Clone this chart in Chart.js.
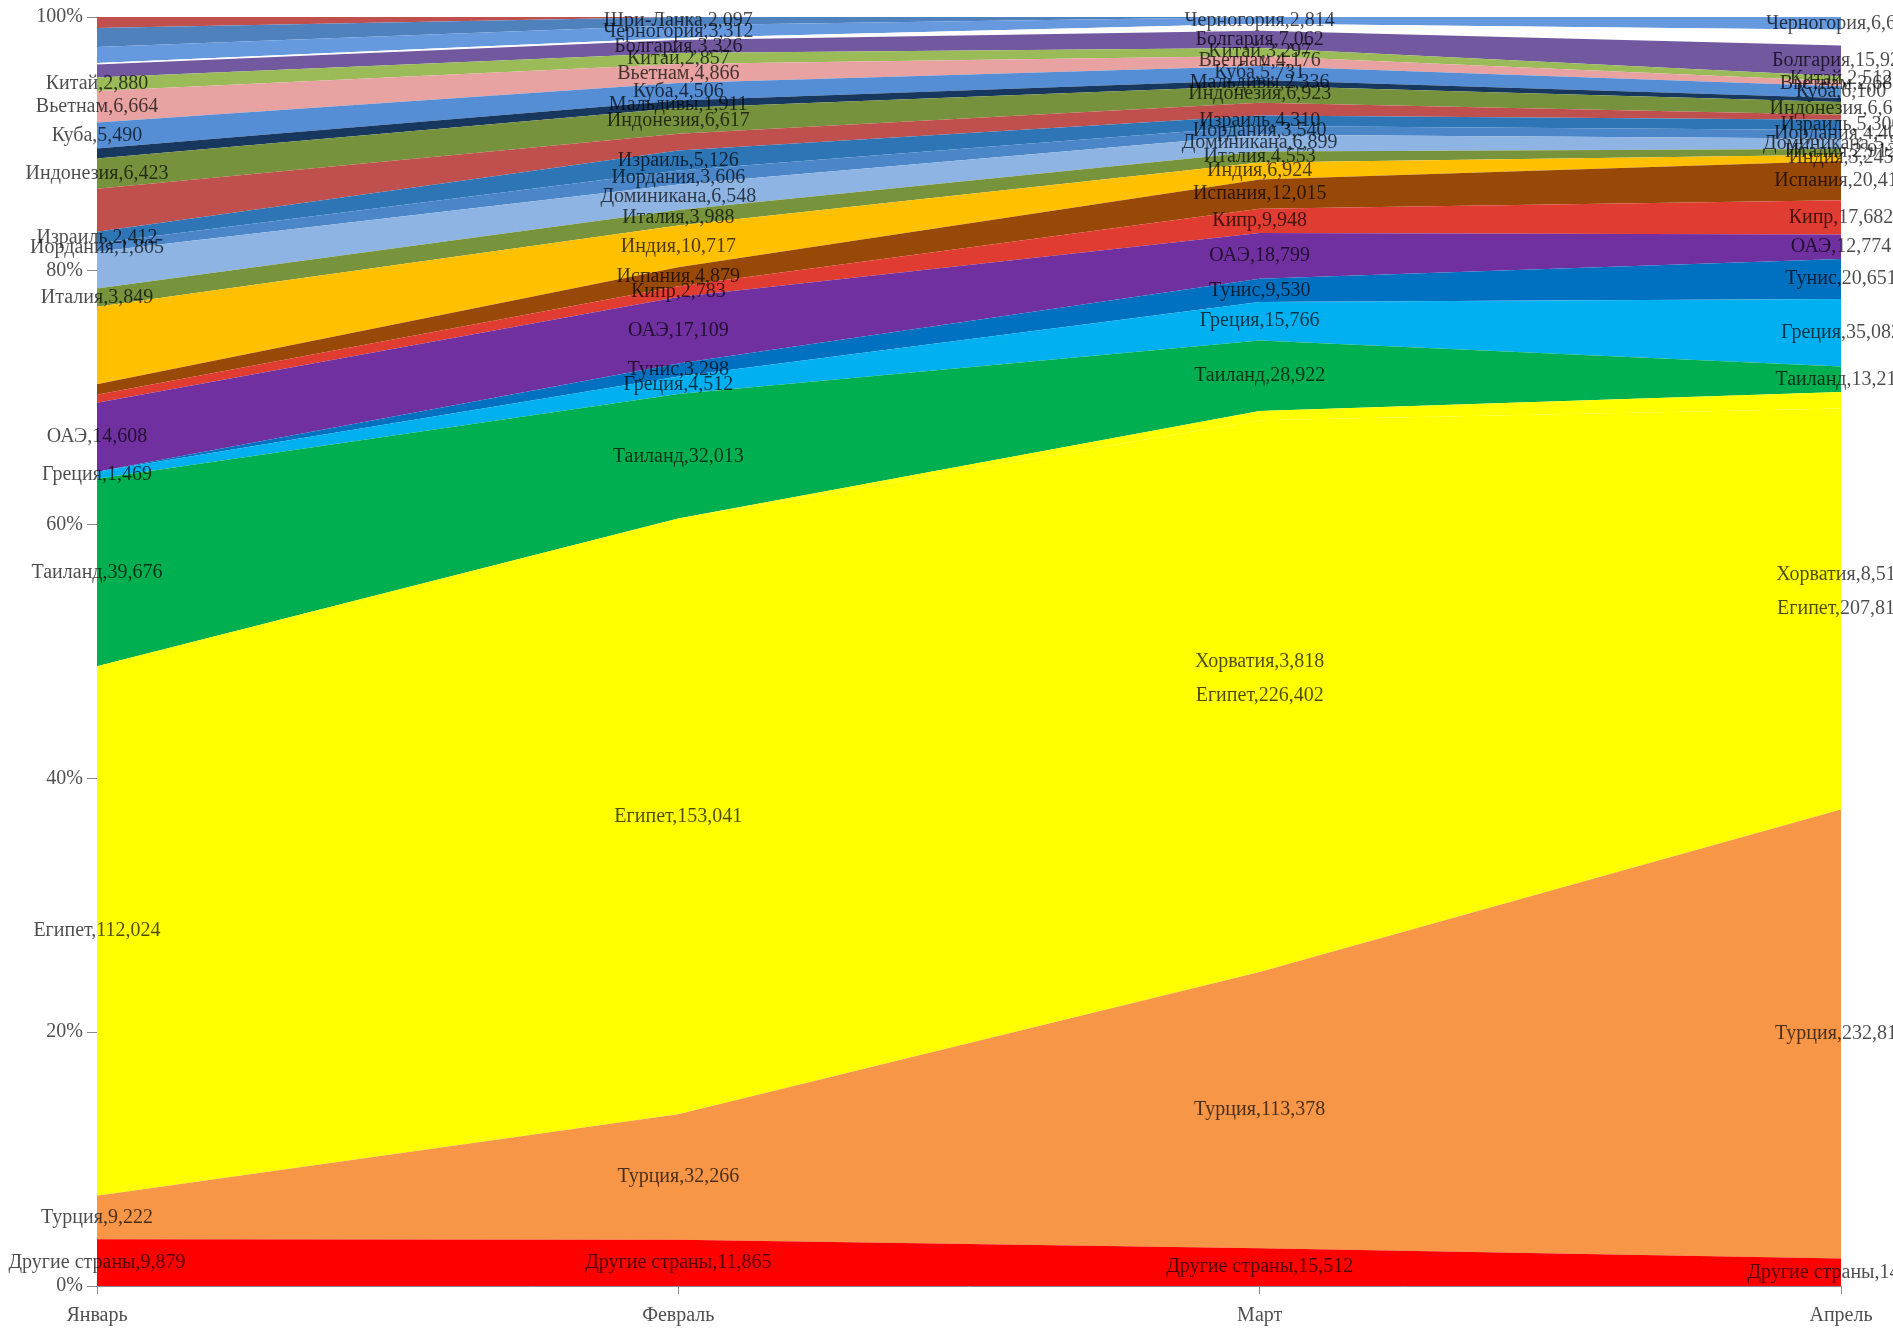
<!DOCTYPE html>
<html>
<head>
    <title>Страны по месяцам</title>
    <script src="https://cdn.jsdelivr.net/npm/chart.js"></script>
    <style>
        html, body { margin: 0; padding: 0; background: #fff; }
        #wrap { width: 1893px; height: 1333px; }
    </style>
</head>
<body>
    <div id="wrap"><canvas id="shareChart"></canvas></div>
    <script>
        const months = ['Январь', 'Февраль', 'Март', 'Апрель'];

        // bottom of the stack first
        const countries = [
            'Другие страны', 'Турция', 'Египет', 'Хорватия', 'Таиланд', 'Греция', 'Тунис',
            'ОАЭ', 'Кипр', 'Испания', 'Индия', 'Италия', 'Доминикана', 'Иордания', 'Израиль',
            'Марокко', 'Индонезия', 'Мальдивы', 'Куба', 'Вьетнам', 'Китай', 'Болгария',
            'Абхазия', 'Черногория', 'Шри-Ланка', 'Сейшелы'
        ];

        const janValues = [9879, 9222, 112024, 0, 39676, 1469, 0, 14608, 1690, 2207, 16400, 3849, 7800,
            1805, 2412, 9080, 6423, 2110, 5490, 6664, 2880, 2750, 300, 3380, 4020, 2330];
        const febValues = [11865, 32266, 153041, 0, 32013, 4512, 3298, 17109, 2783, 4879, 10717, 3988, 6548,
            3606, 5126, 4300, 6617, 1911, 4506, 4866, 2857, 3326, 500, 3312, 2097, 0];
        const marValues = [15512, 113378, 226402, 3818, 28922, 15766, 9530, 18799, 9948, 12015, 6924, 4553, 6899,
            3540, 4310, 5300, 6923, 2336, 5731, 4176, 3297, 7062, 2800, 2814, 0, 0];
        const aprValues = [14212, 232812, 207812, 8512, 13218, 35082, 20651, 12774, 17682, 20412, 3245, 2912, 5512,
            4400, 5300, 2600, 6600, 2000, 6100, 2680, 2512, 15921, 8200, 6612, 0, 0];

        // which months carry a data label (Jan Feb Mar Apr)
        const labelMask = ['1111', '1111', '1111', '0011', '1111', '1111', '0111',
            '1111', '0111', '0111', '0111', '1111', '0111', '1111', '1111',
            '0000', '1111', '0110', '1111', '1111', '1111', '0111',
            '0000', '0111', '0100', '0000'];

        const colors = [
            '#FF0000', '#F79646', '#FFFF00', '#FFFF00', '#00B050', '#00B0F0', '#0070C0',
            '#7030A0', '#E03C31', '#984807', '#FFC000', '#77933C', '#8EB4E3', '#4A86C8', '#2E75B6',
            '#C0504D', '#76923C', '#17375E', '#558ED5', '#E8A2A2', '#9BBB59', '#71589F',
            '#FFFFFF', '#6699DD', '#4F81BD', '#C0504D'
        ];

        const monthValues = [janValues, febValues, marValues, aprValues];
        const totals = monthValues.map(arr => arr.reduce((a, b) => a + b, 0));

        const datasets = countries.map((name, i) => ({
            label: name,
            data: monthValues.map((arr, m) => arr[i] / totals[m] * 100),
            raw: monthValues.map(arr => arr[i]),
            backgroundColor: colors[i],
            borderColor: colors[i],
            borderWidth: 0,
            pointRadius: 0,
            tension: 0,
            fill: i === 0 ? 'origin' : '-1'
        }));

        const serif = '"Liberation Serif", "DejaVu Serif", serif';
        const labelFont = '20px ' + serif;

        // "Страна,значение" in the middle of each band
        const bandLabels = {
            id: 'bandLabels',
            afterDatasetsDraw(chart) {
                const ctx = chart.ctx;
                const y0 = chart.scales.y.getPixelForValue(0);
                const centre = (i, m) => {
                    const top = chart.getDatasetMeta(i).data[m].y;
                    const bottom = i === 0 ? y0 : chart.getDatasetMeta(i - 1).data[m].y;
                    return (top + bottom) / 2;
                };
                const egypt = countries.indexOf('Египет');
                ctx.save();
                ctx.font = labelFont;
                ctx.fillStyle = 'rgba(0, 0, 0, 0.7)';
                ctx.textAlign = 'center';
                ctx.textBaseline = 'middle';
                datasets.forEach((ds, i) => {
                    months.forEach((mo, m) => {
                        if (labelMask[i][m] !== '1' || !ds.raw[m]) return;
                        const x = chart.getDatasetMeta(i).data[m].x;
                        let y = centre(i, m);
                        if (ds.label === 'Хорватия') y = centre(egypt, m) - 34;
                        ctx.fillText(ds.label + ',' + ds.raw[m].toLocaleString('en-US'), x, y);
                    });
                });
                ctx.restore();
            }
        };

        const ctx1 = document.getElementById('shareChart').getContext('2d');
        new Chart(ctx1, {
            type: 'line',
            data: { labels: months, datasets: datasets },
            options: {
                responsive: true,
                maintainAspectRatio: false,
                animation: false,
                layout: { padding: { left: 0, right: 52, top: 17, bottom: 0 } },
                plugins: {
                    legend: { display: false },
                    tooltip: { enabled: false }
                },
                scales: {
                    x: {
                        offset: false,
                        grid: { drawOnChartArea: false, tickLength: 8, color: '#8a8a8a' },
                        border: { color: '#8a8a8a' },
                        ticks: {
                            color: '#505050',
                            padding: 10,
                            font: { family: serif, size: 20 }
                        },
                        afterFit(scale) { scale.height = 47; }
                    },
                    y: {
                        stacked: true,
                        min: 0,
                        max: 100,
                        grid: { drawOnChartArea: false, tickLength: 10, color: '#8a8a8a' },
                        border: { color: '#8a8a8a' },
                        ticks: {
                            stepSize: 20,
                            color: '#505050',
                            padding: 4,
                            font: { family: serif, size: 20 },
                            callback: v => v + '%'
                        },
                        afterFit(scale) { scale.width = 97; }
                    }
                }
            },
            plugins: [bandLabels]
        });
    </script>
</body>
</html>
